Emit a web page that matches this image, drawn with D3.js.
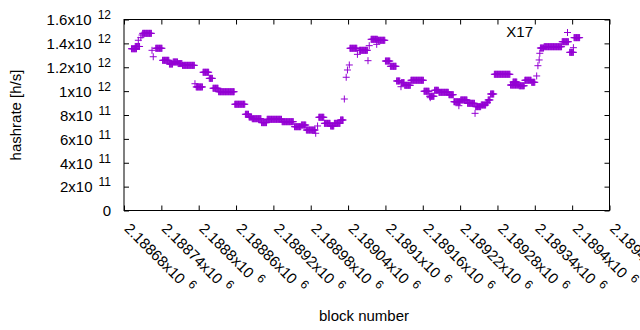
<!DOCTYPE html>
<html>
<head>
<meta charset="utf-8">
<script src="https://cdn.jsdelivr.net/npm/d3@7"></script>
<style>
  body { margin: 0; background: #fff; }
  text { font-family: "Liberation Sans", Arial, sans-serif; fill: #000; }
</style>
</head>
<body>
<div id="chart"></div>
<script>
// runs of blocks that share the same hashrate estimate (one point per block)
const runStart = [2188692, 2188698, 2188703, 2188707, 2188709, 2188710, 2188725, 2188727,
  2188731, 2188742, 2188753, 2188759, 2188767, 2188774, 2188794, 2188796, 2188807, 2188817,
  2188823, 2188832, 2188858, 2188875, 2188881, 2188886, 2188901, 2188910, 2188934, 2188954,
  2188965, 2188973, 2188988, 2188991, 2188993, 2189002, 2189012, 2189018, 2189028, 2189034,
  2189037, 2189039, 2189042, 2189043, 2189055, 2189058, 2189072, 2189074, 2189077, 2189086,
  2189088, 2189100, 2189108, 2189118, 2189125, 2189126, 2189131, 2189141, 2189162, 2189171,
  2189172, 2189179, 2189186, 2189202, 2189210, 2189218, 2189221, 2189232, 2189244, 2189245,
  2189254, 2189262, 2189265, 2189269, 2189275, 2189301, 2189305, 2189315, 2189324, 2189335,
  2189343, 2189345, 2189347, 2189348, 2189349, 2189355, 2189384, 2189396, 2189402, 2189403];
const runEnd = [2188700, 2188705, 2188703, 2188707, 2188709, 2188724, 2188725, 2188727,
  2188741, 2188752, 2188758, 2188766, 2188773, 2188793, 2188794, 2188806, 2188816, 2188822,
  2188831, 2188857, 2188874, 2188880, 2188885, 2188900, 2188909, 2188933, 2188952, 2188964,
  2188972, 2188987, 2188988, 2188991, 2189001, 2189011, 2189017, 2189027, 2189032, 2189034,
  2189037, 2189039, 2189042, 2189054, 2189055, 2189071, 2189072, 2189074, 2189087, 2189086,
  2189099, 2189107, 2189117, 2189123, 2189125, 2189130, 2189140, 2189161, 2189170, 2189178,
  2189172, 2189185, 2189201, 2189209, 2189220, 2189218, 2189231, 2189243, 2189244, 2189253,
  2189261, 2189264, 2189268, 2189274, 2189300, 2189314, 2189311, 2189323, 2189334, 2189340,
  2189343, 2189345, 2189347, 2189348, 2189354, 2189383, 2189394, 2189402, 2189402, 2189412];
const runValue = [1.355e12, 1.374e12, 1.426e12, 1.448e12, 1.470e12, 1.484e12, 1.342e12, 1.288e12,
  1.359e12, 1.258e12, 1.227e12, 1.244e12, 1.231e12, 1.216e12, 1.062e12, 1.035e12, 1.158e12, 1.107e12,
  1.024e12, 0.995e12, 0.890e12, 0.806e12, 0.783e12, 0.769e12, 0.736e12, 0.764e12, 0.744e12, 0.702e12,
  0.716e12, 0.674e12, 0.647e12, 0.708e12, 0.781e12, 0.730e12, 0.708e12, 0.730e12, 0.758e12, 0.934e12,
  1.116e12, 1.177e12, 1.219e12, 1.359e12, 1.308e12, 1.342e12, 1.255e12, 1.381e12, 1.434e12, 1.392e12,
  1.426e12, 1.252e12, 1.208e12, 1.085e12, 1.037e12, 1.071e12, 1.049e12, 1.091e12, 0.999e12, 0.957e12,
  0.945e12, 1.007e12, 0.990e12, 0.970e12, 0.911e12, 0.878e12, 0.926e12, 0.898e12, 0.814e12, 0.870e12,
  0.884e12, 0.903e12, 0.926e12, 0.976e12, 1.141e12, 1.051e12, 1.076e12, 1.045e12, 1.091e12, 1.074e12,
  1.127e12, 1.213e12, 1.261e12, 1.317e12, 1.361e12, 1.372e12, 1.414e12, 1.325e12, 1.364e12, 1.448e12];

const seriesName = "X17";

// tick values and their labels (mantissa, exponent)
const xTicks = [2188680, 2188740, 2188800, 2188860, 2188920, 2188980, 2189040,
  2189100, 2189160, 2189220, 2189280, 2189340, 2189400, 2189460];
const xTickMant = ["2.18868", "2.18874", "2.1888", "2.18886", "2.18892", "2.18898", "2.18904",
  "2.1891", "2.18916", "2.18922", "2.18928", "2.18934", "2.1894", "2.18946"];
const xTickExp = "6";
const yTicks = [0, 2e11, 4e11, 6e11, 8e11, 1e12, 1.2e12, 1.4e12, 1.6e12];
const yTickMant = ["0", "2", "4", "6", "8", "1", "1.2", "1.4", "1.6"];
const yTickExp = ["", "11", "11", "11", "11", "12", "12", "12", "12"];

// build one point per block from the runs
let points = [];
runStart.forEach(function(s, i) {
  for (let b = s; b <= runEnd[i]; b++) points.push({block: b, value: runValue[i]});
});

const margin = {top: 19.5, right: 30.5, bottom: 119.5, left: 124},
    width = 640 - margin.left - margin.right,
    height = 330 - margin.top - margin.bottom;

let svg = d3.select("#chart")
  .append("svg")
    .attr("width", 640)
    .attr("height", 330)
  .append("g")
    .attr("transform", "translate(" + margin.left + "," + margin.top + ")");

let x = d3.scaleLinear()
  .domain([2188680, 2189460])
  .range([0, width]);

let y = d3.scaleLinear()
  .domain([0, 1.6e12])
  .range([height, 0]);

const purple = "#9400d3";
const plus = "M-3.5,0H3.5M0,-3.5V3.5";

// x axis, ticks pointing in, mirrored on top
let xAxis = svg.append("g")
  .attr("transform", "translate(0," + height + ")")
  .call(d3.axisBottom(x).tickValues(xTicks).tickSizeInner(-5).tickSizeOuter(0));
xAxis.select(".domain").remove();
xAxis.selectAll(".tick line").attr("stroke", "#000");
xAxis.selectAll(".tick text").remove();
xAxis.selectAll(".tick").append("text")
  .attr("transform", "translate(-1,19) rotate(45)")
  .attr("text-anchor", "start")
  .style("font-size", "15px")
  .each(function(d, i) {
    let t = d3.select(this);
    t.append("tspan").text(xTickMant[i] + "x10");
    t.append("tspan").attr("dx", 6).attr("dy", -6).style("font-size", "12px").text(xTickExp);
  });

svg.append("g")
  .call(d3.axisTop(x).tickValues(xTicks).tickSizeInner(-5).tickSizeOuter(0).tickFormat(""))
  .call(g => g.select(".domain").remove());

// y axis
let yAxis = svg.append("g")
  .call(d3.axisLeft(y).tickValues(yTicks).tickSizeInner(-5).tickSizeOuter(0).tickPadding(13));
yAxis.select(".domain").remove();
yAxis.selectAll(".tick text").remove();
yAxis.selectAll(".tick").append("text")
  .attr("x", -13)
  .attr("dy", "0.35em")
  .attr("text-anchor", "end")
  .style("font-size", "15px")
  .each(function(d, i) {
    let t = d3.select(this);
    t.append("tspan").text(yTickExp[i] ? yTickMant[i] + "x10" : yTickMant[i]);
    if (yTickExp[i]) {
      t.append("tspan").attr("dx", 6).attr("dy", -6).style("font-size", "12px").text(yTickExp[i]);
    }
  });

svg.append("g")
  .attr("transform", "translate(" + width + ",0)")
  .call(d3.axisRight(y).tickValues(yTicks).tickSizeInner(-5).tickSizeOuter(0).tickFormat(""))
  .call(g => g.select(".domain").remove());

// frame
svg.append("rect")
  .attr("width", width)
  .attr("height", height)
  .attr("fill", "none")
  .attr("stroke", "#000");

// points
svg.selectAll("path.pt")
  .data(points)
  .enter()
  .append("path")
  .attr("class", "pt")
  .attr("d", plus)
  .attr("transform", d => "translate(" + x(d.block) + "," + y(d.value) + ")")
  .attr("fill", "none")
  .attr("stroke", purple)
  .attr("stroke-width", 1);

// key
svg.append("text")
  .attr("x", 533 - margin.left)
  .attr("y", 32 - margin.top)
  .attr("dy", "0.35em")
  .attr("text-anchor", "end")
  .style("font-size", "15px")
  .text(seriesName);
svg.append("path")
  .attr("d", plus)
  .attr("transform", "translate(" + (567.5 - margin.left) + "," + (32.5 - margin.top) + ")")
  .attr("fill", "none")
  .attr("stroke", purple);

// axis titles
d3.select("svg").append("text")
  .attr("x", 364)
  .attr("y", 321)
  .attr("text-anchor", "middle")
  .style("font-size", "15px")
  .text("block number");

d3.select("svg").append("text")
  .attr("transform", "translate(21,115) rotate(-90)")
  .attr("text-anchor", "middle")
  .style("font-size", "15px")
  .text("hashrate [h/s]");
</script>
</body>
</html>
